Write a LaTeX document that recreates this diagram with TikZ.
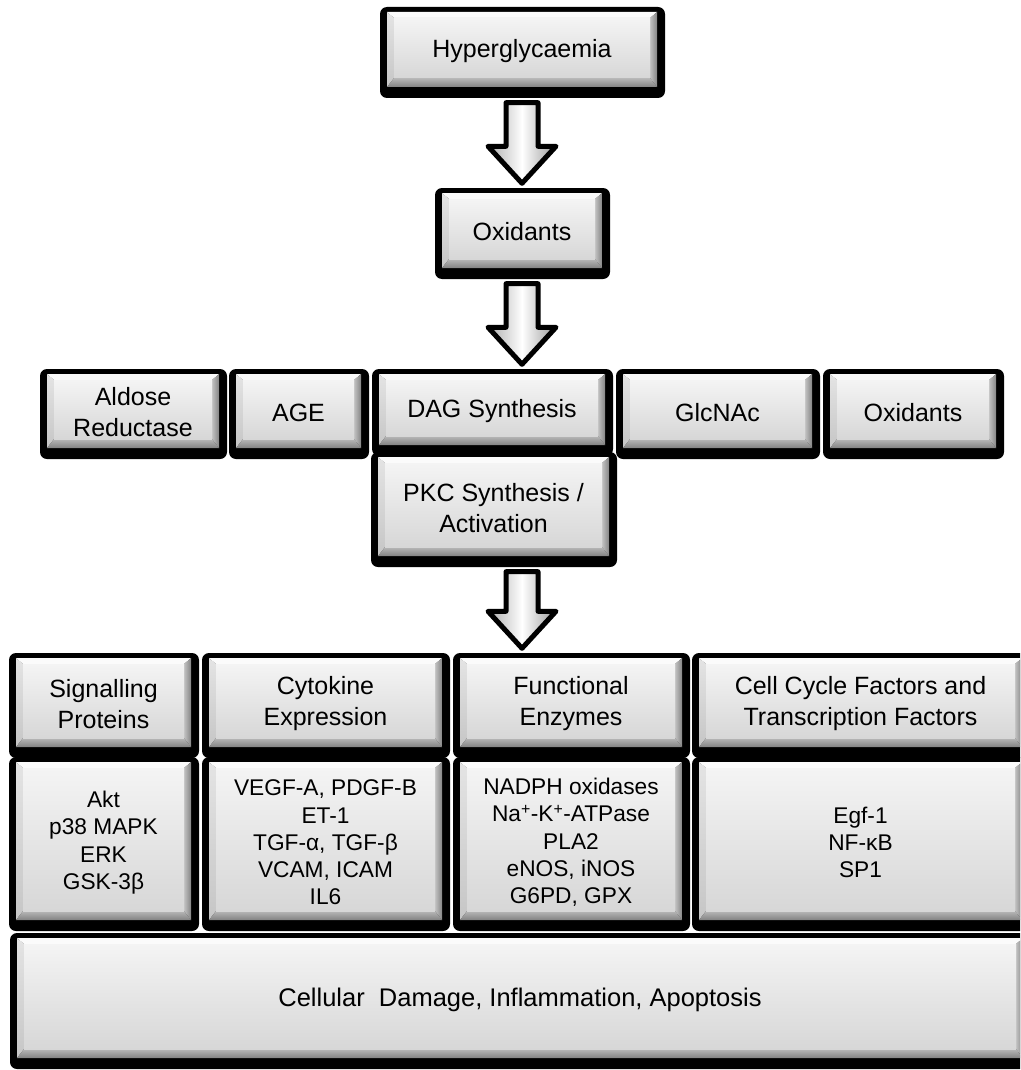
\documentclass[tikz,border=0pt]{standalone}
\usepackage{fontspec}
\setmainfont{Liberation Sans}
\usetikzlibrary{calc}
\definecolor{facetop}{HTML}{F4F4F4}
\definecolor{facebot}{HTML}{D7D7D7}
\definecolor{bevtopc}{HTML}{FBFBFB}
\definecolor{bevlefttop}{HTML}{E4E4E4}
\definecolor{bevleftbot}{HTML}{C6C6C6}
\definecolor{bevrightin}{HTML}{C2C2C2}
\definecolor{bevrightout}{HTML}{858585}
\definecolor{bevbotin}{HTML}{B8B8B8}
\definecolor{bevbotout}{HTML}{828282}
\tikzset{
  hdr/.style={font=\fontsize{25}{31}\selectfont},
  lst/.style={font=\fontsize{22.7}{27.3}\selectfont},
  btm/.style={font=\fontsize{25.5}{31}\selectfont},
  barrow/.style={draw=black, line width=5pt, line join=round,
    left color=gray!65, right color=gray!80, middle color=white},
  outerframe/.style={fill=black, rounded corners=7pt},
}
% name, x1, y1, x2, y2, style, text
\newcommand{\bevbox}[7]{%
  \fill[outerframe] (#2,#3) rectangle (#4,#5);
  \pgfmathsetmacro\bL{#2+7}\pgfmathsetmacro\bR{#4-8}%
  \pgfmathsetmacro\bT{#3+5}\pgfmathsetmacro\bB{#5-11}%
  \pgfmathsetmacro\fL{\bL+7}\pgfmathsetmacro\fR{\bR-7}%
  \pgfmathsetmacro\fT{\bT+6}\pgfmathsetmacro\fB{\bB-9}%
  \fill[bevtopc] (\bL,\bT) -- (\bR,\bT) -- (\fR,\fT) -- (\fL,\fT) -- cycle;
  \shade[top color=bevlefttop, bottom color=bevleftbot] (\bL,\bT) -- (\fL,\fT) -- (\fL,\fB) -- (\bL,\bB) -- cycle;
  \shade[left color=bevrightin, right color=bevrightout] (\bR,\bT) -- (\bR,\bB) -- (\fR,\fB) -- (\fR,\fT) -- cycle;
  \shade[top color=bevbotin, bottom color=bevbotout] (\bL,\bB) -- (\bR,\bB) -- (\fR,\fB) -- (\fL,\fB) -- cycle;
  \shade[top color=facetop, bottom color=facebot] (\fL,\fT) rectangle (\fR,\fB);
  \pgfmathsetmacro\cx{(\bL+\bR)/2}\pgfmathsetmacro\cy{(\bT+\bB)/2+1.5}%
  \pgfmathsetmacro\bw{\bR-\bL}\pgfmathsetmacro\bh{\bB-\bT}%
  \node[#6, name=#1, minimum width=\bw pt, minimum height=\bh pt, inner sep=0pt, align=center] at (\cx,\cy) {#7};
}
\newcommand{\flowarrow}[2]{%
  \path[barrow] let \p1=(#1.south), \p2=(#2.north), \p3=(axis) in
    (\x3-16pt,\y1-14pt) -- (\x3+16pt,\y1-14pt) -- (\x3+16pt,\y2+48pt)
    -- (\x3+34pt,\y2+48pt) -- (\x3,\y2+11pt) -- (\x3-34pt,\y2+48pt)
    -- (\x3-16pt,\y2+48pt) -- cycle;
}
\begin{document}
\begin{tikzpicture}[x=1pt,y=-1pt]
\useasboundingbox (0,0) rectangle (1020,1070);
\fill[white] (0,0) rectangle (1020,1070);
\clip (0,0) rectangle (1020,1070);
\coordinate (axis) at (522,0);
% top chain
\bevbox{hyper}{380}{7}{665}{98}{hdr}{Hyperglycaemia}
\bevbox{oxid1}{435}{188}{610}{279}{hdr}{Oxidants}
% second row
\bevbox{aldose}{40}{369}{227}{459}{hdr}{Aldose\\Reductase}
\bevbox{age}{229}{369}{369}{459}{hdr}{AGE}
\bevbox{glcnac}{616}{369}{820}{459}{hdr}{GlcNAc}
\bevbox{oxid2}{823}{369}{1004}{459}{hdr}{Oxidants}
\bevbox{pkc}{371}{452}{617}{567}{hdr}{PKC Synthesis /\\Activation}
\bevbox{dag}{372}{369}{613}{456}{hdr}{DAG Synthesis}
% header row
\bevbox{sig}{9}{653}{199}{758}{hdr}{Signalling\\Proteins}
\bevbox{cyt}{202}{653}{450}{758}{hdr}{Cytokine\\Expression}
\bevbox{fun}{453}{653}{690}{758}{hdr}{Functional\\Enzymes}
\bevbox{cell}{692}{653}{1030}{758}{hdr}{Cell Cycle Factors and\\Transcription Factors}
% list row
\bevbox{sigl}{9}{757}{199}{931}{lst}{Akt\\p38 MAPK\\ERK\\GSK-3β}
\bevbox{cytl}{202}{757}{450}{931}{lst}{VEGF-A, PDGF-B\\ET-1\\TGF-α, TGF-β\\VCAM, ICAM\\IL6}
\bevbox{funl}{453}{757}{690}{931}{lst}{NADPH oxidases\\Na\textsuperscript{+}-K\textsuperscript{+}-ATPase\\PLA2\\eNOS, iNOS\\G6PD, GPX}
\bevbox{celll}{692}{757}{1030}{931}{lst}{Egf-1\\NF-κB\\SP1}
% bottom
\bevbox{damage}{10}{933}{1031}{1069}{btm}{Cellular~~Damage, Inflammation, Apoptosis}
% arrows
\flowarrow{hyper}{oxid1}
\flowarrow{oxid1}{dag}
\flowarrow{pkc}{fun}
\end{tikzpicture}
\end{document}
